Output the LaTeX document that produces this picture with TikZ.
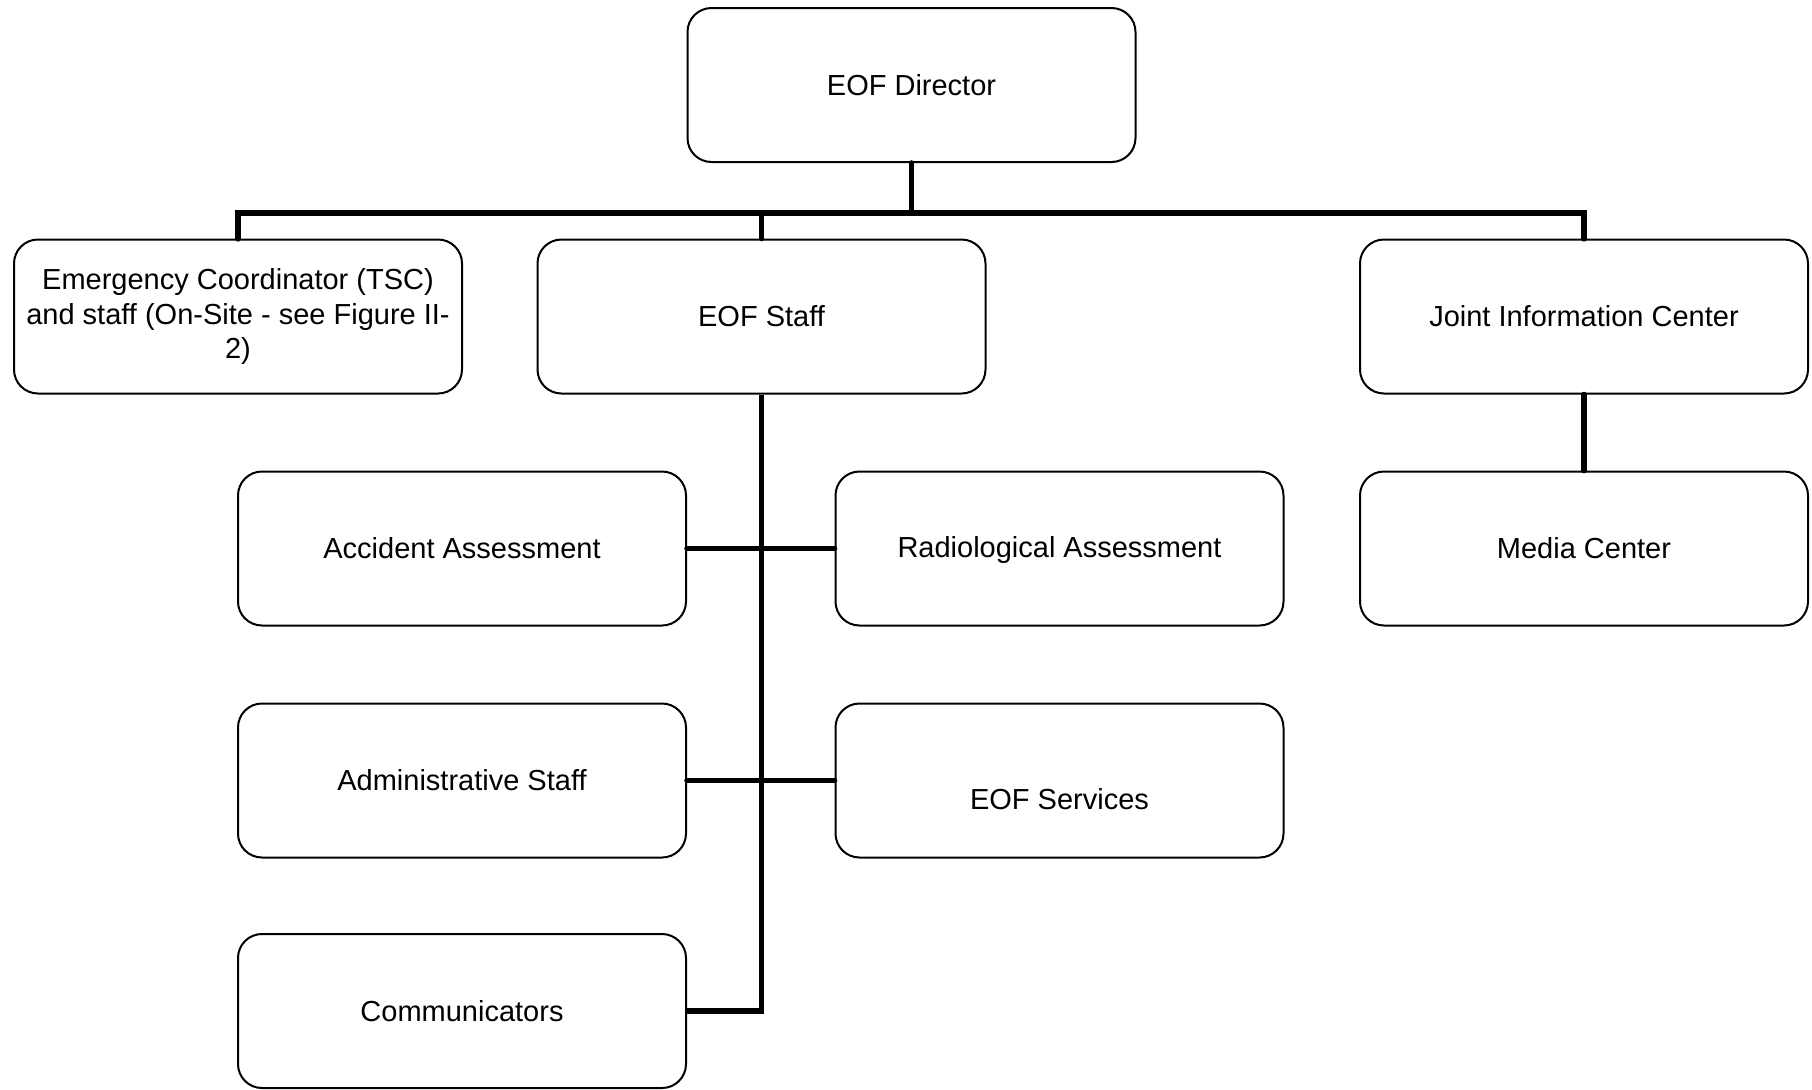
\documentclass[tikz,border=0pt]{standalone}
\usepackage{fontspec}
\setmainfont{Liberation Sans}
\usepackage{tikz}

\begin{document}
\begin{tikzpicture}[x=0.5pt, y=-0.5pt,
        box/.style={draw, line width=1pt, rounded corners=12pt, minimum width=224pt, minimum height=77pt, align=center, font=\fontsize{14.5}{17.3}\selectfont},
        conn/.style={line width=2.8pt, line cap=round}]
            \useasboundingbox (0, 0) rectangle (1812, 1089);

            \node[box] (dir) at (911.5, 85) {EOF Director};

            \node[box] (ec) at (238, 316.5) {Emergency Coordinator (TSC)\\and staff (On-Site - see Figure II-\\2)};
            \node[box] (staff) at (761.5, 316.5) {EOF Staff};
            \node[box] (jic) at (1584, 316.5) {Joint Information Center};

            \node[box] (acc) at (462, 548.5) {Accident Assessment};
            \node[box, text depth=0.2ex] (rad) at (1059.5, 548.5) {Radiological Assessment};
            \node[box] (media) at (1584, 548.5) {Media Center};

            \node[box] (adm) at (462, 780.5) {Administrative Staff};
            \node[box] (svc) at (1059.5, 780.5) {};
            \node[font=\fontsize{14.5}{17.3}\selectfont] (svctext) at (1059.5, 799) {EOF Services};

            \node[box] (comm) at (462, 1011) {Communicators};

            \coordinate (bus) at (911.5, 213);
            \draw[conn] (dir.south) -- (bus);
            \draw[conn, line width=3.2pt] (ec.north) |- (bus) -| (jic.north);
            \draw[conn] (bus -| staff.north) -- (staff.north);

            \draw[conn, line cap=butt] (staff.south) |- (comm.east);
            \draw[conn] (acc.east) -- (rad.west);
            \draw[conn] (adm.east) -- (svc.west);

            \draw[conn] (jic.south) -- (media.north);
        \end{tikzpicture}
\end{document}
